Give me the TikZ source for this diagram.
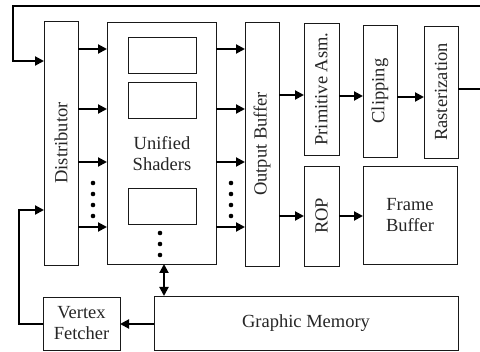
\documentclass[tikz,border=0pt]{standalone}
\usepackage{fontspec}
\setmainfont{Liberation Serif}
\usetikzlibrary{arrows.meta}
\begin{document}
\begin{tikzpicture}[x=1pt,y=-1pt,
  box/.style={draw=black!90,line width=0.9pt,inner sep=0pt,outer sep=0pt,fill=white,
    font=\fontsize{18.5}{21}\selectfont,text=black!85,align=center},
  arr/.style={line width=2pt,-{Triangle[length=9pt,width=9pt]}},
  dbl/.style={line width=2pt,{Triangle[length=9pt,width=9pt]}-{Triangle[length=9pt,width=9pt]}},
  dotc/.style={circle,fill=black,inner sep=0pt,minimum size=4.6pt}]
\useasboundingbox (0,0) rectangle (480,352);
\clip (0,0) rectangle (480,352);
% boxes
\node[box,minimum width=34pt,minimum height=244pt] (dist) at (61,143) {};
\node[rotate=90,font=\fontsize{18.5}{21}\selectfont,text=black!85] (distl) at (dist.center) {Distributor};
\node[box,minimum width=109pt,minimum height=242pt] (shad) at (161.5,143) {};
\node[box,minimum width=68pt,minimum height=36pt] (r1) at (162,55) {};
\node[box,minimum width=68pt,minimum height=36pt] (r2) at (162,100) {};
\node[box,minimum width=68pt,minimum height=36pt] (r3) at (162,206) {};
\node[font=\fontsize{18.5}{21}\selectfont,text=black!85,align=center] (shl) at (162,154) {Unified\\Shaders};
\node[box,minimum width=34pt,minimum height=244pt] (ob) at (262,144) {};
\node[rotate=90,font=\fontsize{18.5}{21}\selectfont,text=black!85] (obl) at (ob.center) {Output Buffer};
\node[box,minimum width=35pt,minimum height=132pt] (pa) at (321.5,89) {};
\node[rotate=90,font=\fontsize{18.5}{21}\selectfont,text=black!85] (pal) at (pa.center) {Primitive Asm.};
\node[box,minimum width=34pt,minimum height=132pt] (cl) at (380,91) {};
\node[rotate=90,font=\fontsize{18.5}{21}\selectfont,text=black!85] (cll) at (cl.center) {Clipping};
\node[box,minimum width=34pt,minimum height=132pt] (ra) at (441,92) {};
\node[rotate=90,font=\fontsize{18.5}{21}\selectfont,text=black!85] (ral) at (ra.center) {Rasterization};
\node[box,minimum width=35pt,minimum height=100pt] (rop) at (321.5,216) {};
\node[rotate=90,font=\fontsize{18.5}{21}\selectfont,text=black!85] (ropl) at (rop.center) {ROP};
\node[box,minimum width=94pt,minimum height=98pt] (fb) at (410,215) {Frame\\Buffer};
\node[box,minimum width=304pt,minimum height=54pt] (gm) at (306,323) {Graphic Memory};
\node[box,minimum width=77pt,minimum height=53pt] (vf) at (81.5,323.5) {Vertex\\Fetcher};
% distributor -> shaders -> output buffer
\foreach \yy in {49,109,162,227} {
  \draw[arr] (dist.east |- 0,\yy) -- (shad.west |- 0,\yy);
  \draw[arr] (shad.east |- 0,\yy) -- (ob.west |- 0,\yy);
}
% dots
\foreach \yy [count=\i] in {183,194,205,216} {
  \node[dotc] (dl\i) at (93,\yy) {};
  \node[dotc] (dr\i) at (231,\yy) {};
}
\foreach \yy [count=\i] in {233,244,255} {
  \node[dotc] (dm\i) at (160,\yy) {};
}
% pipeline
\draw[arr] (ob.east |- 0,95) -- (pa.west |- 0,95);
\draw[arr] (pa.east |- 0,96) -- (cl.west |- 0,96);
\draw[arr] (cl.east |- 0,97) -- (ra.west |- 0,97);
\draw[arr] (ob.east |- 0,216) -- (rop.west |- 0,216);
\draw[arr] (rop.east |- 0,216) -- (fb.west |- 0,216);
% memory
\draw[dbl] (shad.south -| 164,0) -- (gm.north -| 164,0);
\draw[arr] (gm.west |- 0,324) -- (vf.east |- 0,324);
\coordinate (c1) at (19,324);
\coordinate (c2) at (19,210);
\draw[arr] (vf.west |- 0,324) -- (c1) -- (c2) -- (dist.west |- c2);
% feedback loop
\coordinate (f1) at (484,89);
\coordinate (f2) at (484,6);
\coordinate (f3) at (13,6);
\coordinate (f4) at (13,61);
\draw[arr,line join=miter] (ra.east |- f1) -- (f1) -- (f2) -- (f3) -- (f4) -- (dist.west |- f4);
\end{tikzpicture}
\end{document}
